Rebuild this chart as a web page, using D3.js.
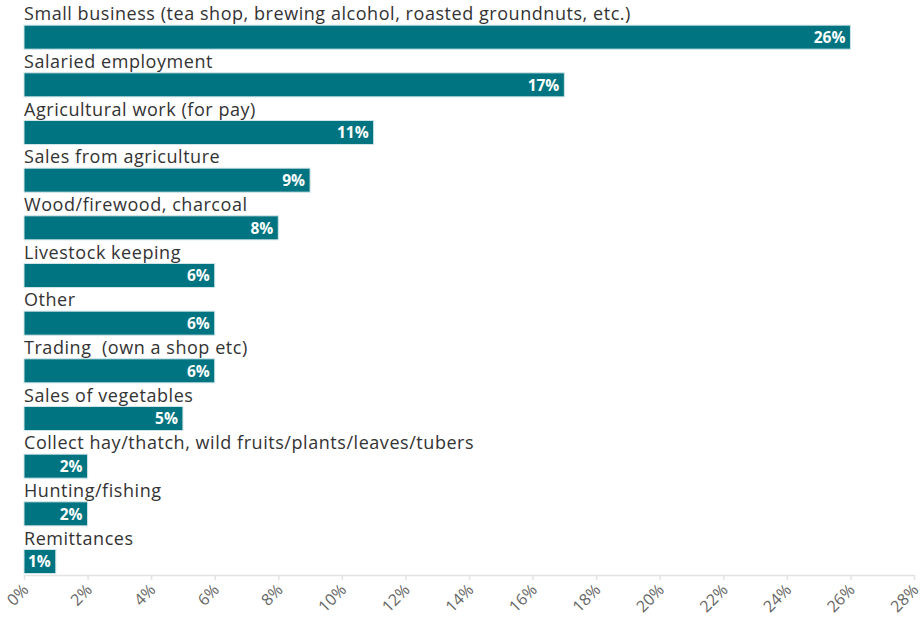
<!DOCTYPE html>
<html>
<head>
<meta charset="utf-8">
<script src="https://cdn.jsdelivr.net/npm/d3@7"></script>
<style>
  html, body { margin: 0; padding: 0; background: #fff; }
  svg { display: block; }
  text { white-space: pre; }
</style>
</head>
<body>
<svg id="chart" width="922" height="618"></svg>
<script>
// Sources of household income, share of respondents (%)
const categories = [
  "Small business (tea shop, brewing alcohol, roasted groundnuts, etc.)",
  "Salaried employment",
  "Agricultural work (for pay)",
  "Sales from agriculture",
  "Wood/firewood, charcoal",
  "Livestock keeping",
  "Other",
  "Trading  (own a shop etc)",
  "Sales of vegetables",
  "Collect hay/thatch, wild fruits/plants/leaves/tubers",
  "Hunting/fishing",
  "Remittances"
];
const values = [26, 17, 11, 9, 8, 6, 6, 6, 5, 2, 2, 1];
const tickValues = [0, 2, 4, 6, 8, 10, 12, 14, 16, 18, 20, 22, 24, 26, 28];

(function draw() {
  const svg = d3.select("#chart");
  const plotLeft = 24, plotRight = 914, plotTop = 2, axisY = 575;

  const x = d3.scaleLinear().domain([0, 28]).range([plotLeft, plotRight]);
  const y = d3.scaleBand().domain(categories).range([plotTop, axisY - 1]).paddingInner(0).paddingOuter(0);

  const barH = 24;
  const barOffset = y.bandwidth() - barH - 0.5;
  const font = "'Open Sans', sans-serif";

  const rows = svg.append("g").selectAll("g")
    .data(categories.map((c, i) => ({ c, v: values[i] })))
    .join("g")
    .attr("transform", d => `translate(0,${y(d.c)})`);

  rows.append("text")
    .attr("x", plotLeft)
    .attr("y", barOffset - 5)
    .attr("font-family", font)
    .attr("font-size", 18)
    .attr("letter-spacing", 0.55)
    .attr("fill", "#333")
    .text(d => d.c);

  rows.append("rect")
    .attr("x", x(0))
    .attr("y", barOffset)
    .attr("width", d => x(d.v) - x(0))
    .attr("height", barH)
    .attr("fill", "#007480")
    .attr("stroke", "#cfe5e8")
    .attr("stroke-width", 1);

  rows.append("text")
    .attr("x", d => x(d.v) - 5)
    .attr("y", barOffset + barH / 2 + 6)
    .attr("text-anchor", "end")
    .attr("font-family", font)
    .attr("font-size", 15.5)
    .attr("font-weight", "bold")
    .attr("fill", "#fff")
    .text(d => d.v + "%");

  // x axis
  const axis = svg.append("g")
    .attr("transform", `translate(0,${axisY})`)
    .call(d3.axisBottom(x).tickValues(tickValues).tickFormat(d => d + "%").tickSize(5).tickSizeOuter(0));

  axis.select(".domain").attr("stroke", "#e3e3e3").attr("stroke-width", 1.5);
  axis.selectAll(".tick line").attr("stroke", "#e3e3e3").attr("stroke-width", 1.5);
  axis.selectAll(".tick text")
    .attr("font-family", font)
    .attr("font-size", 16)
    .attr("fill", "#666")
    .attr("text-anchor", "end")
    .attr("dy", null)
    .attr("transform", "translate(5,16) rotate(-45)")
    .attr("y", 0)
    .attr("x", 0);
})();
</script>
</body>
</html>
